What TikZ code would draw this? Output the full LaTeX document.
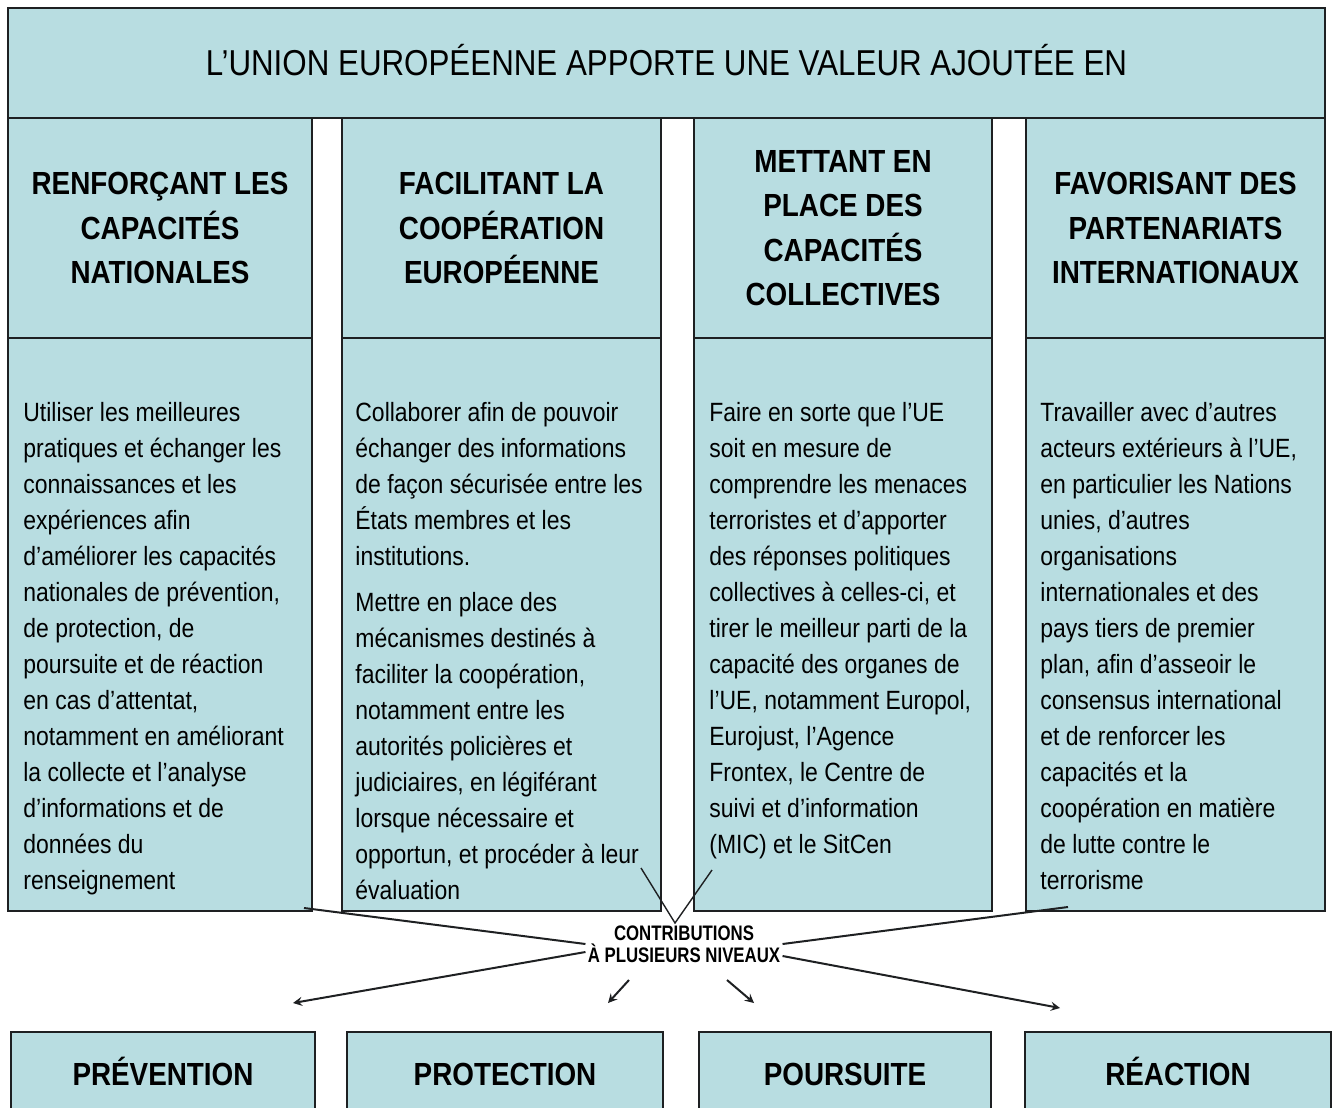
\documentclass[tikz,border=0pt]{standalone}
\usepackage{fontspec}
\setmainfont[FakeStretch=0.87]{Liberation Sans}
\newfontfamily\narrowfont[FakeStretch=0.8]{Liberation Sans}
\usetikzlibrary{positioning,fit}
\definecolor{cellblue}{RGB}{184,221,225}
\definecolor{rulegrey}{RGB}{30,32,34}

\begin{document}
\begin{tikzpicture}[x=0.5pt,y=-0.5pt,
  cell/.style={draw=rulegrey,line width=1pt,fill=cellblue,inner sep=0pt},
  headtext/.style={align=center,font=\fontsize{16}{22.25}\selectfont\bfseries},
  leveltext/.style={headtext,anchor=base},
  bodytext/.style={align=left,anchor=north west,inner sep=0pt,font=\fontsize{13.2}{18}\selectfont},
  link/.style={draw=rulegrey,line width=1pt},
  arrowlink/.style={link,->,>=stealth}]
\useasboundingbox (0,0) rectangle (1333,1108);
\clip (0,0) rectangle (1333,1108);

% title
\node[cell,fit={(8,8) (1325,118)}] (title) {};
\node[font=\fontsize{18}{22}\selectfont] (titletext) at ([yshift=1.5pt]title.center) {L’UNION EUROPÉENNE APPORTE UNE VALEUR AJOUTÉE EN};

% headings of the four columns
\node[cell,fit={(8,118) (312,338)}] (headA) {};
\node[cell,fit={(342,118) (661,338)}] (headB) {};
\node[cell,fit={(694,118) (992,338)}] (headC) {};
\node[cell,fit={(1026,118) (1325,338)}] (headD) {};
\node[headtext] (headAtext) at (headA.center) {RENFORÇANT LES\\CAPACITÉS\\NATIONALES};
\node[headtext] (headBtext) at (headB.center) {FACILITANT LA\\COOPÉRATION\\EUROPÉENNE};
\node[headtext] (headCtext) at (headC.center) {METTANT EN\\PLACE DES\\CAPACITÉS\\COLLECTIVES};
\node[headtext] (headDtext) at (headD.center) {FAVORISANT DES\\PARTENARIATS\\INTERNATIONAUX};

% bodies
\node[cell,fit={(8,338) (312,911)}] (bodyA) {};
\node[cell,fit={(342,338) (661,911)}] (bodyB) {};
\node[cell,fit={(694,338) (992,911)}] (bodyC) {};
\node[cell,fit={(1026,338) (1325,911)}] (bodyD) {};

\node[bodytext] (textA) at (23,402) {Utiliser les meilleures\\pratiques et échanger les\\connaissances et les\\expériences afin\\d’améliorer les capacités\\nationales de prévention,\\de protection, de\\poursuite et de réaction\\en cas d’attentat,\\notamment en améliorant\\la collecte et l’analyse\\d’informations et de\\données du\\renseignement};
\node[bodytext] (textB) at (355,402) {Collaborer afin de pouvoir\\échanger des informations\\de façon sécurisée entre les\\États membres et les\\institutions.\\[5pt]Mettre en place des\\mécanismes destinés à\\faciliter la coopération,\\notamment entre les\\autorités policières et\\judiciaires, en légiférant\\lorsque nécessaire et\\opportun, et procéder à leur\\évaluation};
\node[bodytext] (textC) at (709,402) {Faire en sorte que l’UE\\soit en mesure de\\comprendre les menaces\\terroristes et d’apporter\\des réponses politiques\\collectives à celles-ci, et\\tirer le meilleur parti de la\\capacité des organes de\\l’UE, notamment Europol,\\Eurojust, l’Agence\\Frontex, le Centre de\\suivi et d’information\\(MIC) et le SitCen};
\node[bodytext] (textD) at (1040,402) {Travailler avec d’autres\\acteurs extérieurs à l’UE,\\en particulier les Nations\\unies, d’autres\\organisations\\internationales et des\\pays tiers de premier\\plan, afin d’asseoir le\\consensus international\\et de renforcer les\\capacités et la\\coopération en matière\\de lutte contre le\\terrorisme};

% the four levels
\node[cell,fit={(11,1032) (315,1116)}] (prevention) {};
\node[cell,fit={(347,1032) (663,1116)}] (protection) {};
\node[cell,fit={(699,1032) (991,1116)}] (poursuite) {};
\node[cell,fit={(1025,1032) (1331,1116)}] (reaction) {};
\node[leveltext] (preventiontext) at ([yshift=-5.5pt]prevention.center) {PRÉVENTION};
\node[leveltext] (protectiontext) at ([yshift=-5.5pt]protection.center) {PROTECTION};
\node[leveltext] (poursuitetext) at ([yshift=-5.5pt]poursuite.center) {POURSUITE};
\node[leveltext] (reactiontext) at ([yshift=-5.5pt]reaction.center) {RÉACTION};

% contributions
\node[font=\narrowfont\fontsize{10.5}{11}\selectfont\bfseries,align=center,inner sep=1pt] (contrib) at (684,944) {CONTRIBUTIONS\\À PLUSIEURS NIVEAUX};
\coordinate (fromA) at (304,908);
\coordinate (fromB) at (641,868);
\coordinate (fromC) at (712,870);
\coordinate (fromD) at (1068,907);
\coordinate (join) at (675,923);
\coordinate (startP) at (629,980);
\coordinate (startQ) at (727,980);
\coordinate (tipA) at (293,1003);
\coordinate (tipB) at (608,1003);
\coordinate (tipC) at (754,1003);
\coordinate (tipD) at (1060,1008);

\draw[link] (fromA) -- (contrib.west);
\draw[link] (fromD) -- (contrib.east);
\draw[link,line width=0.7pt] (fromB) -- (join) -- (fromC);
\draw[arrowlink] ([yshift=-4pt]contrib.west) -- (tipA);
\draw[arrowlink] (startP) -- (tipB);
\draw[arrowlink] (startQ) -- (tipC);
\draw[arrowlink] ([yshift=-6pt]contrib.east) -- (tipD);
\end{tikzpicture}
\end{document}
